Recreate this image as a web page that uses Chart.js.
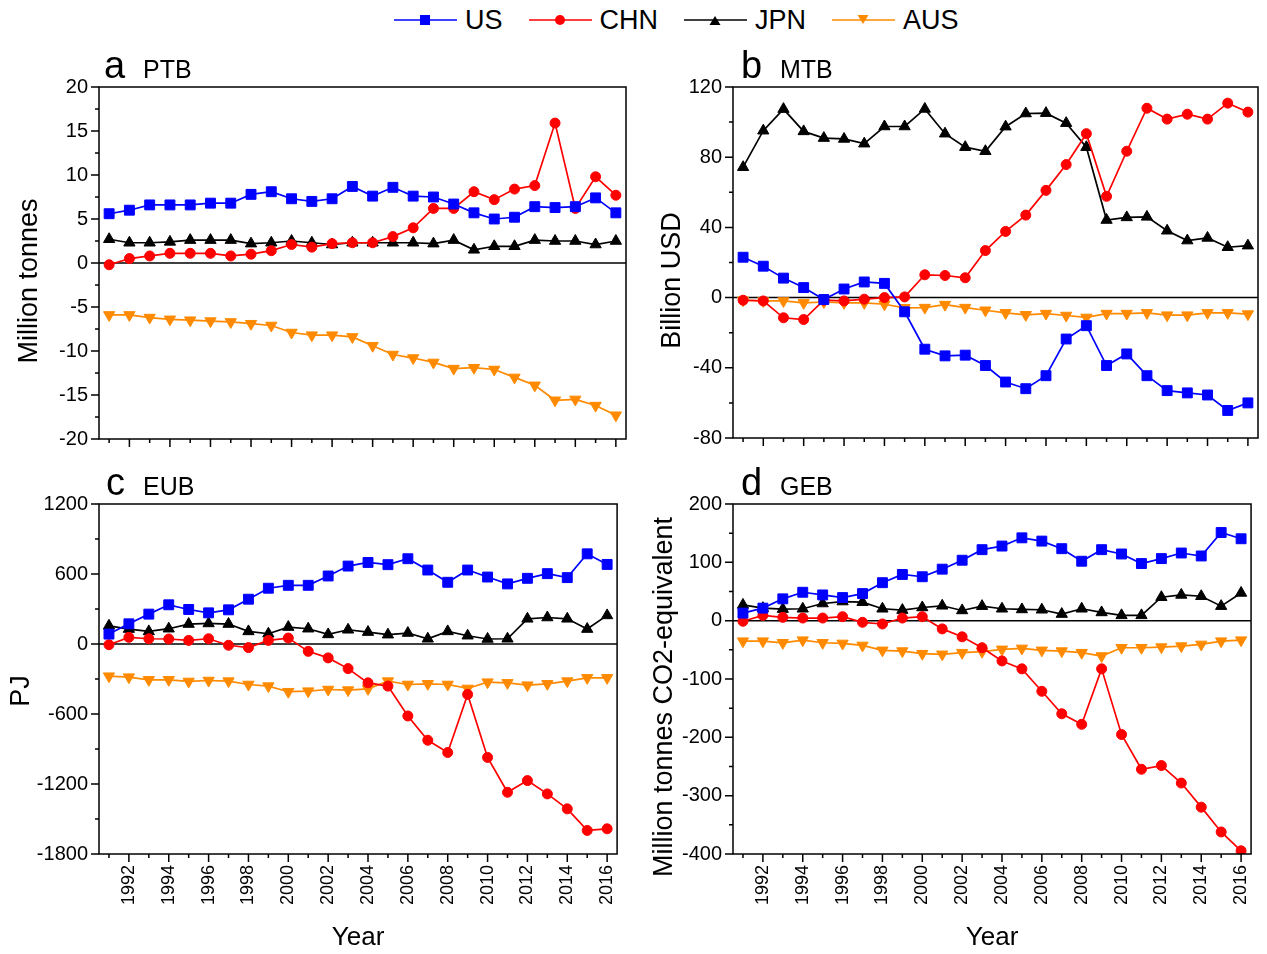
<!DOCTYPE html>
<html>
<head>
<meta charset="utf-8">
<script src="https://cdn.jsdelivr.net/npm/chart.js@4.4.1/dist/chart.umd.min.js"></script>
<style>
    body { margin: 0; background: #fff; width: 1267px; height: 954px; position: relative; overflow: hidden;
           font-family: "Liberation Sans", Arial, sans-serif; color: #000; }
    canvas { position: absolute; }
    .tag { position: absolute; white-space: nowrap; line-height: 1; }
    .tag .letter { font-size: 38px; }
    .tag .name { font-size: 25px; position: absolute; top: 11px; }
    #legend { position: absolute; left: 394px; top: 4px; display: flex; align-items: center; font-size: 27px; line-height: 32px; }
    #legend .item { display: flex; align-items: center; margin-right: 26px; }
    #legend .item span { margin-left: 8px; }
</style>
</head>
<body>
<div id="legend"></div>

<canvas id="chartA" width="640" height="398" style="left:0;top:64px"></canvas>
<canvas id="chartB" width="640" height="397" style="left:634px;top:64px"></canvas>
<canvas id="chartC" width="640" height="473" style="left:0;top:481px"></canvas>
<canvas id="chartD" width="640" height="473" style="left:634px;top:481px"></canvas>

<div class="tag" style="left:104px;top:46px"><span class="letter">a</span><span class="name" style="left:39px">PTB</span></div>
<div class="tag" style="left:741px;top:46px"><span class="letter">b</span><span class="name" style="left:39px">MTB</span></div>
<div class="tag" style="left:106px;top:463px"><span class="letter">c</span><span class="name" style="left:37px">EUB</span></div>
<div class="tag" style="left:741px;top:463px"><span class="letter">d</span><span class="name" style="left:39px">GEB</span></div>

<script>
const YEARS = [1991, 1992, 1993, 1994, 1995, 1996, 1997, 1998, 1999, 2000, 2001, 2002, 2003,
               2004, 2005, 2006, 2007, 2008, 2009, 2010, 2011, 2012, 2013, 2014, 2015, 2016];
const SERIES = ['US', 'CHN', 'JPN', 'AUS'];
const COLORS = ['#0000ff', '#ff0000', '#000000', '#ff8a00'];
const POINT_STYLES = ['rect', 'circle', 'triangle', 'triangle'];
const POINT_ROTATION = [0, 0, 0, 180];
const POINT_RADIUS = [7, 5, 6.5, 6.5];

// a - PTB (Million tonnes)
const ptbUS  = [5.6, 6.0, 6.6, 6.6, 6.6, 6.8, 6.8, 7.8, 8.1, 7.3, 7.0, 7.3, 8.7, 7.6, 8.6, 7.6, 7.5, 6.7, 5.7, 5.0, 5.2, 6.4, 6.3, 6.4, 7.4, 5.7];
const ptbCHN = [-0.2, 0.5, 0.8, 1.1, 1.1, 1.1, 0.8, 1.0, 1.4, 2.1, 1.8, 2.2, 2.3, 2.3, 3.0, 4.0, 6.2, 6.2, 8.1, 7.2, 8.4, 8.8, 15.9, 6.2, 9.8, 7.7];
const ptbJPN = [2.7, 2.3, 2.3, 2.4, 2.6, 2.6, 2.6, 2.2, 2.3, 2.5, 2.3, 2.1, 2.3, 2.3, 2.3, 2.3, 2.2, 2.6, 1.5, 1.9, 1.9, 2.6, 2.5, 2.5, 2.1, 2.5];
const ptbAUS = [-5.9, -5.9, -6.2, -6.4, -6.5, -6.6, -6.7, -6.9, -7.1, -7.9, -8.2, -8.2, -8.4, -9.4, -10.4, -10.8, -11.3, -12.0, -11.9, -12.1, -13.0, -13.9, -15.6, -15.5, -16.2, -17.3];

// b - MTB (Billion USD)
const mtbUS  = [23.0, 17.9, 11.1, 5.7, -1.1, 4.9, 8.9, 8.1, -8.1, -29.4, -33.2, -32.8, -38.7, -48.1, -51.9, -44.5, -23.6, -16.0, -38.7, -32.1, -44.5, -53.0, -54.3, -55.5, -64.3, -60.0];
const mtbCHN = [-1.5, -1.9, -11.5, -12.5, -1.5, -1.9, -0.9, 0.0, 0.4, 13.0, 12.6, 11.3, 26.8, 37.7, 47.0, 61.1, 75.8, 93.4, 57.7, 83.4, 107.9, 101.7, 104.5, 101.7, 110.8, 105.7];
const mtbJPN = [74.3, 95.1, 107.4, 94.7, 90.9, 90.4, 87.7, 97.5, 97.5, 107.5, 93.4, 85.7, 83.4, 97.4, 104.9, 105.1, 99.4, 85.7, 44.2, 45.7, 46.0, 38.1, 32.5, 34.0, 28.7, 29.6];
const mtbAUS = [-1.5, -1.9, -1.9, -3.0, -2.5, -3.0, -3.0, -3.8, -5.8, -5.7, -4.0, -5.7, -7.2, -8.7, -9.8, -9.1, -10.2, -11.3, -9.1, -9.1, -8.7, -10.0, -10.0, -8.7, -8.7, -9.4];

// c - EUB (PJ)
const eubUS  = [85, 173, 256, 336, 296, 267, 293, 384, 478, 503, 503, 583, 668, 699, 680, 731, 634, 529, 634, 574, 515, 563, 603, 569, 773, 682];
const eubCHN = [-6, 57, 45, 43, 31, 45, -11, -31, 31, 51, -63, -119, -211, -333, -361, -617, -825, -930, -432, -972, -1271, -1171, -1285, -1413, -1598, -1584];
const eubJPN = [156, 128, 108, 131, 171, 176, 171, 108, 88, 145, 131, 82, 122, 102, 80, 94, 45, 108, 71, 43, 45, 216, 227, 216, 128, 245];
const eubAUS = [-276, -284, -307, -307, -321, -313, -318, -347, -361, -409, -404, -390, -395, -384, -318, -347, -341, -347, -381, -327, -333, -353, -341, -318, -290, -290];

// d - GEB (Million tonnes CO2-equivalent)
const gebUS  = [13, 21.5, 37.4, 48.7, 44.1, 39.6, 46.4, 65.1, 79.2, 75.3, 88.3, 103.6, 121.7, 127.9, 142.0, 136.4, 123.4, 101.9, 121.7, 114.3, 97.9, 106.4, 116.0, 110.9, 151.1, 140.4];
const gebCHN = [-1.1, 9.1, 5.7, 4.5, 4.5, 6.8, -2.8, -5.7, 4.5, 6.8, -14.1, -27.7, -46.4, -69.0, -82.6, -121.1, -159.6, -177.7, -82.6, -195.2, -254.7, -248.4, -278.4, -319.7, -362.2, -394.5];
const gebJPN = [27, 21.5, 19.8, 20.4, 29.4, 32.8, 31.7, 20.4, 18.1, 22.6, 25.5, 17.5, 24.9, 20.4, 19.2, 18.7, 11.3, 20.4, 14.1, 9.1, 9.1, 40.2, 44.1, 41.9, 24.9, 47.5];
const gebAUS = [-35.1, -35.1, -37.9, -33.4, -37.9, -39.0, -42.4, -50.9, -52.1, -56.6, -57.7, -54.9, -53.2, -49.2, -47.5, -50.9, -52.1, -54.9, -60.6, -46.4, -46.4, -45.3, -43.6, -40.7, -35.1, -33.4];

const FONT = '"Liberation Sans", Arial, sans-serif';

// box around the plot, zero line, outward tick marks and the y title
const framePlugin = {
    id: 'frame',
    beforeDatasetsDraw(chart) {
        const { ctx, chartArea: a, scales: { y } } = chart;
        const y0 = y.getPixelForValue(0);
        ctx.save();
        ctx.strokeStyle = '#000';
        ctx.lineWidth = 1.5;
        ctx.beginPath();
        ctx.moveTo(a.left, y0);
        ctx.lineTo(a.right, y0);
        ctx.stroke();
        ctx.restore();
    },
    afterDraw(chart, args, opts) {
        const { ctx, chartArea: a, scales: { x, y } } = chart;
        ctx.save();
        ctx.strokeStyle = '#000';
        ctx.lineWidth = 1.5;
        ctx.strokeRect(a.left, a.top, a.right - a.left, a.bottom - a.top);
        ctx.beginPath();
        YEARS.forEach(v => {
            const px = x.getPixelForValue(v);
            const len = v % 2 === 0 ? 8 : 4;
            ctx.moveTo(px, a.bottom);
            ctx.lineTo(px, a.bottom + len);
        });
        for (let v = y.min; v <= y.max + 1e-9; v += opts.minor) {
            const py = y.getPixelForValue(v);
            const isMajor = Math.abs(v / opts.major - Math.round(v / opts.major)) < 1e-6;
            ctx.moveTo(a.left, py);
            ctx.lineTo(a.left - (isMajor ? 8 : 4), py);
        }
        ctx.stroke();

        // y title, sits a bit below the middle of the plot like the original
        ctx.translate(opts.titleX, (a.top + a.bottom) / 2 + opts.titleShift);
        ctx.rotate(-Math.PI / 2);
        ctx.fillStyle = '#000';
        ctx.font = '27px ' + FONT;
        ctx.textAlign = 'center';
        ctx.textBaseline = 'middle';
        ctx.fillText(opts.title, 0, 0);
        ctx.restore();
    }
};

function makeChart(id, cfg) {
    const datasets = SERIES.map((name, i) => ({
        label: name,
        data: YEARS.map((yr, j) => ({ x: yr, y: cfg.values[i][j] })),
        borderColor: COLORS[i],
        backgroundColor: COLORS[i],
        borderWidth: 1.7,
        pointStyle: POINT_STYLES[i],
        pointRotation: POINT_ROTATION[i],
        pointRadius: POINT_RADIUS[i],
        pointBorderWidth: 1,
        pointBorderColor: COLORS[i],
        pointBackgroundColor: COLORS[i],
        tension: 0
    }));

    return new Chart(document.getElementById(id).getContext('2d'), {
        type: 'line',
        data: { datasets },
        plugins: [framePlugin],
        options: {
            responsive: false,
            animation: false,
            events: [],
            layout: { padding: { top: 0, right: cfg.padRight, left: 0, bottom: 0 } },
            plugins: {
                legend: { display: false },
                tooltip: { enabled: false },
                frame: {
                    minor: cfg.minor, major: cfg.major,
                    title: cfg.yTitle, titleX: cfg.titleX, titleShift: cfg.titleShift
                }
            },
            scales: {
                x: {
                    type: 'linear',
                    min: 1990.5,
                    max: 2016.5,
                    afterBuildTicks: s => { s.ticks = YEARS.map(v => ({ value: v })); },
                    afterFit: s => { s.height = cfg.bottom ? 100 : 12; },
                    grid: { display: false, drawTicks: false },
                    border: { display: false },
                    ticks: {
                        display: cfg.bottom,
                        autoSkip: false,
                        minRotation: 90,
                        maxRotation: 90,
                        padding: 11,
                        color: '#000',
                        font: { family: FONT, size: 18 },
                        callback: v => (v % 2 === 0 ? String(v) : '')
                    },
                    title: {
                        display: cfg.bottom,
                        text: 'Year',
                        color: '#000',
                        padding: { top: 0, bottom: 1 },
                        font: { family: FONT, size: 26 }
                    }
                },
                y: {
                    min: cfg.min,
                    max: cfg.max,
                    afterFit: s => { s.width = 99; },
                    grid: { display: false, drawTicks: false },
                    border: { display: false },
                    ticks: {
                        stepSize: cfg.major,
                        padding: 11,
                        color: '#000',
                        font: { family: FONT, size: 20 },
                        callback: v => String(v)
                    }
                }
            }
        }
    });
}

function buildLegend() {
    const legend = document.getElementById('legend');
    legend.innerHTML = SERIES.map((name, i) => {
        let marker;
        if (POINT_STYLES[i] === 'rect') {
            marker = `<rect x="26" y="5" width="10" height="10" fill="${COLORS[i]}"/>`;
        } else if (POINT_STYLES[i] === 'circle') {
            marker = `<circle cx="31" cy="10" r="5" fill="${COLORS[i]}"/>`;
        } else if (POINT_ROTATION[i] === 180) {
            marker = `<polygon points="25.5,5 36.5,5 31,14" fill="${COLORS[i]}"/>`;
        } else {
            marker = `<polygon points="25.5,15 36.5,15 31,6" fill="${COLORS[i]}"/>`;
        }
        return `<div class="item"><svg width="63" height="20"><line x1="0" y1="10" x2="63" y2="10" stroke="${COLORS[i]}" stroke-width="1.7"/>${marker}</svg><span>${name}</span></div>`;
    }).join('');
}

buildLegend();

makeChart('chartA', {
    values: [ptbUS, ptbCHN, ptbJPN, ptbAUS],
    min: -20, max: 20, major: 5, minor: 2.5,
    yTitle: 'Million tonnes', titleX: 30, titleShift: 18, padRight: 14, bottom: false
});
makeChart('chartB', {
    values: [mtbUS, mtbCHN, mtbJPN, mtbAUS],
    min: -80, max: 120, major: 40, minor: 20,
    yTitle: 'Billion USD', titleX: 39, titleShift: 18, padRight: 16, bottom: false
});
makeChart('chartC', {
    values: [eubUS, eubCHN, eubJPN, eubAUS],
    min: -1800, max: 1200, major: 600, minor: 300,
    yTitle: 'PJ', titleX: 22, titleShift: 12, padRight: 14, bottom: true
});
makeChart('chartD', {
    values: [gebUS, gebCHN, gebJPN, gebAUS],
    min: -400, max: 200, major: 100, minor: 50,
    yTitle: 'Million tonnes CO2-equivalent', titleX: 31, titleShift: 18, padRight: 16, bottom: true
});
</script>
</body>
</html>
